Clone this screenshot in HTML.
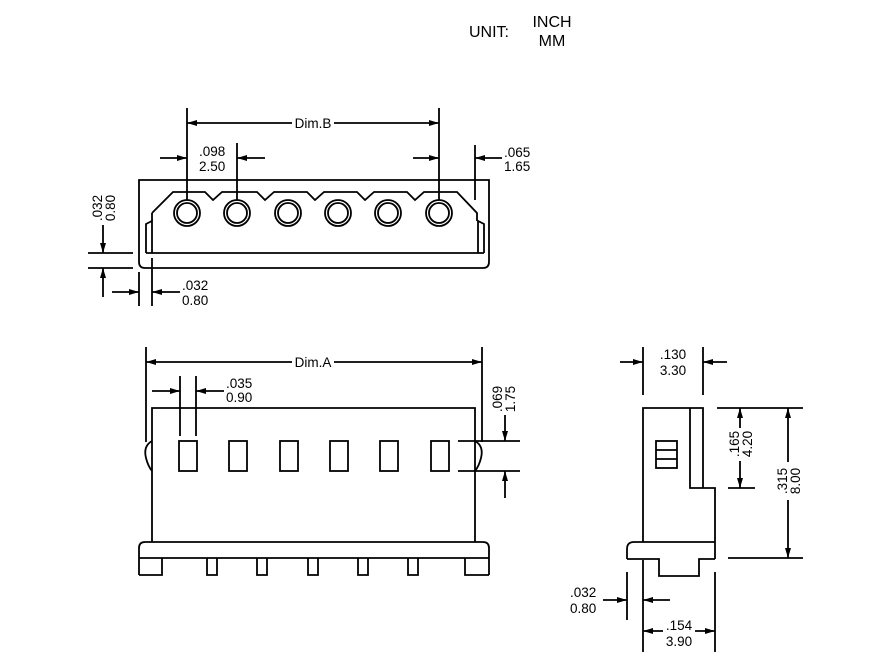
<!DOCTYPE html>
<html><head><style>
html,body{margin:0;padding:0;background:#fff;}
svg{display:block;}
text{font-family:"Liberation Sans",Arial,sans-serif;font-size:13.5px;fill:#000;}
</style></head><body>
<svg width="872" height="658" viewBox="0 0 872 658" xmlns="http://www.w3.org/2000/svg">
<defs>
<marker id="a" viewBox="0 0 10 6" refX="10" refY="3" markerWidth="11" markerHeight="6" markerUnits="userSpaceOnUse" orient="auto"><path d="M0,0 L10,3 L0,6 z" fill="#000"/></marker>
</defs>
<text x="469" y="37" style="font-size:16px">UNIT:</text>
<text x="552" y="27" text-anchor="middle" style="font-size:16px">INCH</text>
<text x="552" y="46" text-anchor="middle" style="font-size:16px">MM</text>

<!-- TOP VIEW -->
<g stroke="#000" fill="none" stroke-width="1.8">
<path d="M139,180 L489,180 L489,262 Q489,268 483,268 L145,268 Q139,268 139,262 Z"/>
<path d="M146,253 L484,253"/>
<path d="M146,253 L146,224 L152,221 L152,253"/>
<path d="M484,253 L484,224 L478,221 L478,253"/>
<path d="M152,213 L173,192 L205,192 L213,200 L222,192 L257,192 L265,200 L274,192 L307,192 L315,200 L324,192 L357,192 L365,200 L374,192 L407,192 L415,200 L424,192 L457,192 L477,213 L477,221"/>
<path d="M152,213 L152,221"/>
<g>
<circle cx="187" cy="213" r="13"/><circle cx="187" cy="213" r="10"/>
<circle cx="237" cy="213" r="13"/><circle cx="237" cy="213" r="10"/>
<circle cx="288" cy="213" r="13"/><circle cx="288" cy="213" r="10"/>
<circle cx="338" cy="213" r="13"/><circle cx="338" cy="213" r="10"/>
<circle cx="388" cy="213" r="13"/><circle cx="388" cy="213" r="10"/>
<circle cx="439" cy="213" r="13"/><circle cx="439" cy="213" r="10"/>
</g>
<path d="M187,108 L187,200 M439,108 L439,200"/>
<path d="M292,123 L187,123" marker-end="url(#a)"/>
<path d="M334,123 L439,123" marker-end="url(#a)"/>
<path d="M237,143 L237,200"/>
<path d="M160,158 L187,158" marker-end="url(#a)"/>
<path d="M265,158 L237,158" marker-end="url(#a)"/>
<path d="M413,158 L439,158" marker-end="url(#a)"/>
<path d="M475,145 L475,200"/>
<path d="M502,158 L475,158" marker-end="url(#a)"/>
<path d="M88,253 L133,253 M88,268 L133,268"/>
<path d="M103,225 L103,253" marker-end="url(#a)"/>
<path d="M103,297 L103,268" marker-end="url(#a)"/>
<path d="M139,272 L139,306 M152,258 L152,306"/>
<path d="M112,292 L139,292" marker-end="url(#a)"/>
<path d="M180,292 L152,292" marker-end="url(#a)"/>
</g>
<text x="313" y="128" text-anchor="middle">Dim.B</text>
<text x="199" y="156">.098</text><text x="199" y="171">2.50</text>
<text x="504" y="157">.065</text><text x="504" y="171">1.65</text>
<text x="182" y="290">.032</text><text x="182" y="305">0.80</text>
<text transform="translate(102,208) rotate(-90)" text-anchor="middle">.032</text>
<text transform="translate(115,208) rotate(-90)" text-anchor="middle">0.80</text>

<!-- FRONT VIEW -->
<g stroke="#000" fill="none" stroke-width="1.8">
<path d="M152,542 L152,408 L475,408 L475,542"/>
<path d="M152,441 Q143,446 146,458 Q148,466 152,471"/>
<path d="M475,441 Q484,446 481,458 Q479,466 475,471"/>
<path d="M139,575 L139,548 Q139,542 145,542 L483,542 Q489,542 489,548 L489,575"/>
<path d="M139,558 L489,558"/>
<path d="M162,558 L162,575 L139,575 M465,558 L465,575 L489,575"/>
<path d="M207,558 L207,575 L217,575 L217,558"/>
<path d="M257,558 L257,575 L267,575 L267,558"/>
<path d="M308,558 L308,575 L318,575 L318,558"/>
<path d="M358,558 L358,575 L368,575 L368,558"/>
<path d="M408,558 L408,575 L418,575 L418,558"/>
<rect x="179" y="441" width="18" height="30"/>
<rect x="229" y="441" width="18" height="30"/>
<rect x="280" y="441" width="18" height="30"/>
<rect x="330" y="441" width="18" height="30"/>
<rect x="380" y="441" width="18" height="30"/>
<rect x="431" y="441" width="18" height="30"/>
<path d="M146,347 L146,442 M482,347 L482,442"/>
<path d="M292,362 L146,362" marker-end="url(#a)"/>
<path d="M334,362 L482,362" marker-end="url(#a)"/>
<path d="M180,376 L180,436 M196,376 L196,436"/>
<path d="M152,391 L180,391" marker-end="url(#a)"/>
<path d="M224,391 L196,391" marker-end="url(#a)"/>
<path d="M458,441 L520,441 M458,471 L520,471"/>
<path d="M505,415 L505,441" marker-end="url(#a)"/>
<path d="M505,498 L505,471" marker-end="url(#a)"/>
</g>
<text x="313" y="367" text-anchor="middle">Dim.A</text>
<text x="226" y="388">.035</text><text x="226" y="402">0.90</text>
<text transform="translate(502,399) rotate(-90)" text-anchor="middle">.069</text>
<text transform="translate(515,399) rotate(-90)" text-anchor="middle">1.75</text>

<!-- SIDE VIEW -->
<g stroke="#000" fill="none" stroke-width="1.8">
<path d="M643,542 L643,408 L703,408 L703,488"/>
<path d="M690,408 L690,488 L715,488 L715,559"/>
<path d="M643,542 L715,542"/>
<path d="M627,559 L627,549 Q627,542 634,542 L643,542"/>
<path d="M627,559 L659,559 L659,576 L699,576 L699,559 L715,559"/>
<rect x="656" y="441" width="21" height="27"/>
<path d="M656,450 L677,450 M656,459 L677,459"/>
<path d="M643,347 L643,395 M703,347 L703,395"/>
<path d="M620,362 L643,362" marker-end="url(#a)"/>
<path d="M727,362 L703,362" marker-end="url(#a)"/>
<path d="M717,408 L803,408 M728,488 L755,488 M728,558 L803,558"/>
<path d="M740,428 L740,408" marker-end="url(#a)"/>
<path d="M740,461 L740,488" marker-end="url(#a)"/>
<path d="M788,462 L788,408" marker-end="url(#a)"/>
<path d="M788,500 L788,558" marker-end="url(#a)"/>
<path d="M627,572 L627,620 M643,560 L643,652 M715,572 L715,652"/>
<path d="M603,600 L627,600" marker-end="url(#a)"/>
<path d="M670,600 L643,600" marker-end="url(#a)"/>
<path d="M663,631 L643,631" marker-end="url(#a)"/>
<path d="M695,631 L715,631" marker-end="url(#a)"/>
</g>
<text x="673" y="359" text-anchor="middle">.130</text><text x="673" y="375" text-anchor="middle">3.30</text>
<text transform="translate(739,444) rotate(-90)" text-anchor="middle">.165</text>
<text transform="translate(752,444) rotate(-90)" text-anchor="middle">4.20</text>
<text transform="translate(787,481) rotate(-90)" text-anchor="middle">.315</text>
<text transform="translate(800,481) rotate(-90)" text-anchor="middle">8.00</text>
<text x="570" y="597">.032</text><text x="570" y="613">0.80</text>
<text x="679" y="630" text-anchor="middle">.154</text><text x="679" y="646" text-anchor="middle">3.90</text>
</svg>
</body></html>
